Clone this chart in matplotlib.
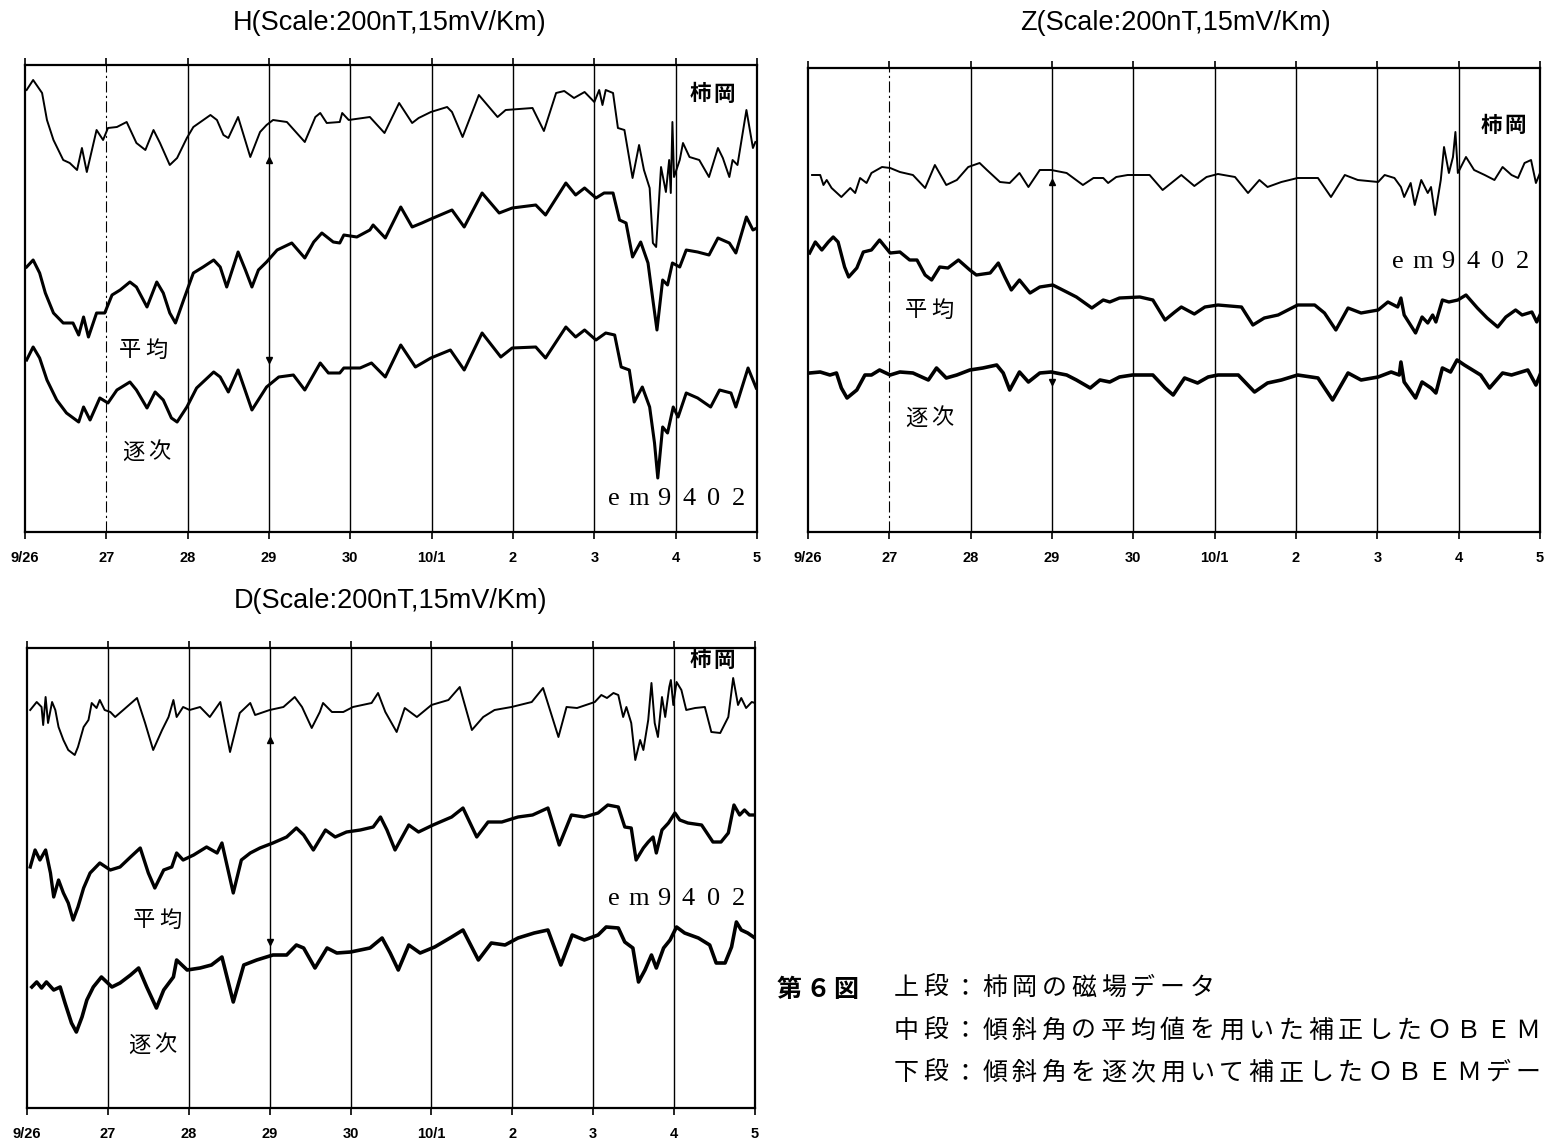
import matplotlib
matplotlib.use("Agg")
import matplotlib.pyplot as plt

plt.rcParams['font.family'] = ['Noto Sans CJK JP', 'DejaVu Sans']

# ---------------- data (time in days from 9/26 00h, value in plot units: larger = lower on page) -------------
day_ticks = [0, 1, 2, 3, 4, 5, 6, 7, 8, 9]
day_labels = ['9/26', '27', '28', '29', '30', '10/1', '2', '3', '4', '5']

# H component
H_kak_t = [0.02,0.10,0.21,0.27,0.35,0.47,0.55,0.64,0.70,0.76,0.88,0.96,1.02,1.13,1.25,1.37,1.48,1.58,1.66,1.78,1.87,1.99,2.07,2.28,2.36,2.44,2.50,2.62,2.77,2.89,2.97,3.05,3.22,3.44,3.57,3.63,3.71,3.87,3.90,3.98,4.24,4.42,4.60,4.76,4.84,4.99,5.19,5.25,5.38,5.58,5.81,5.91,6.24,6.38,6.53,6.63,6.75,6.88,7.00,7.06,7.10,7.14,7.23,7.29,7.37,7.47,7.55,7.61,7.68,7.72,7.76,7.82,7.88,7.92,7.94,7.96,7.98,8.05,8.09,8.17,8.29,8.41,8.52,8.58,8.66,8.70,8.76,8.87,8.95,8.98]
H_kak_v = [90,80,93,120,140,160,163,170,148,172,130,140,128,127,122,143,150,130,143,165,158,138,127,115,120,135,138,117,157,132,125,120,122,142,117,113,123,122,113,120,117,133,103,123,118,112,107,112,137,95,117,110,108,131,93,91,98,92,102,90,105,90,93,128,130,178,145,170,188,243,247,167,192,160,193,122,177,160,143,157,160,177,148,158,177,160,165,110,148,142]

H_avg_t = [0.02,0.10,0.18,0.25,0.35,0.47,0.59,0.66,0.72,0.78,0.88,0.98,1.07,1.17,1.29,1.37,1.50,1.62,1.70,1.78,1.85,1.95,2.07,2.19,2.32,2.40,2.48,2.62,2.71,2.79,2.87,2.97,3.10,3.28,3.44,3.55,3.65,3.79,3.87,3.92,4.08,4.24,4.28,4.43,4.62,4.76,4.88,4.99,5.25,5.40,5.62,5.83,5.99,6.28,6.40,6.65,6.77,6.88,7.02,7.12,7.23,7.31,7.39,7.47,7.57,7.66,7.72,7.77,7.84,7.90,7.96,8.05,8.13,8.27,8.41,8.52,8.66,8.74,8.87,8.95,9.00]
H_avg_v = [267,260,273,293,313,323,323,335,317,337,313,313,295,290,282,287,307,282,293,313,323,300,273,267,260,267,287,252,270,287,270,262,250,243,258,242,233,242,243,235,237,230,225,238,207,227,223,219,210,227,193,213,208,205,215,183,195,188,198,193,193,220,223,257,242,263,300,330,280,285,263,267,250,252,255,238,243,253,217,230,228]

H_seq_t = [0.02,0.10,0.18,0.27,0.39,0.51,0.66,0.72,0.80,0.92,1.02,1.13,1.29,1.37,1.50,1.60,1.70,1.80,1.87,1.99,2.11,2.32,2.40,2.50,2.62,2.79,2.97,3.12,3.30,3.44,3.63,3.73,3.87,3.92,4.12,4.26,4.43,4.62,4.80,4.99,5.23,5.40,5.62,5.85,5.99,6.28,6.40,6.65,6.77,6.88,7.02,7.14,7.25,7.33,7.43,7.49,7.59,7.68,7.74,7.78,7.84,7.90,7.97,8.03,8.13,8.27,8.43,8.54,8.68,8.74,8.89,8.99]
H_seq_v = [360,347,358,380,400,413,422,407,420,398,403,390,382,390,408,392,400,418,422,407,388,372,377,392,370,410,387,377,375,390,363,373,373,368,368,363,377,345,367,358,350,370,333,357,348,347,358,327,337,330,340,333,335,367,370,402,387,407,443,478,427,433,407,417,393,398,407,390,393,407,368,388]

# Z component
Z_kak_t = [0.05,0.15,0.19,0.23,0.29,0.41,0.52,0.58,0.64,0.72,0.78,0.91,1.01,1.13,1.29,1.44,1.56,1.70,1.83,1.97,2.11,2.20,2.36,2.48,2.60,2.71,2.85,2.99,3.18,3.38,3.51,3.63,3.69,3.79,3.93,4.20,4.36,4.59,4.75,4.90,5.04,5.25,5.41,5.55,5.65,5.82,6.02,6.27,6.43,6.60,6.76,7.01,7.09,7.21,7.29,7.33,7.41,7.46,7.54,7.62,7.66,7.71,7.78,7.82,7.88,7.93,7.96,7.99,8.09,8.19,8.32,8.44,8.54,8.65,8.73,8.81,8.89,8.95,9.00]
Z_kak_v = [175,175,185,180,188,197,188,193,178,183,173,167,168,172,175,188,165,185,180,167,163,170,182,183,173,187,170,170,173,185,178,178,183,177,175,175,190,175,186,177,174,177,193,180,187,182,178,178,197,175,180,182,175,178,187,197,183,205,180,193,187,215,180,147,173,157,132,173,157,170,175,180,167,175,178,163,160,183,173]

Z_avg_t = [0.02,0.09,0.17,0.25,0.31,0.37,0.45,0.50,0.60,0.68,0.78,0.88,1.01,1.13,1.25,1.34,1.44,1.52,1.62,1.72,1.85,1.99,2.07,2.24,2.34,2.42,2.50,2.60,2.73,2.85,3.01,3.18,3.30,3.49,3.63,3.71,3.83,4.08,4.24,4.39,4.51,4.59,4.75,4.88,5.04,5.33,5.47,5.61,5.78,6.02,6.23,6.35,6.49,6.64,6.80,7.01,7.13,7.25,7.29,7.33,7.47,7.55,7.62,7.68,7.72,7.80,7.88,7.99,8.09,8.23,8.35,8.48,8.58,8.70,8.78,8.90,8.96,9.00]
Z_avg_v = [253,242,250,242,237,242,267,277,268,252,250,240,253,252,260,260,275,280,267,268,260,270,275,273,263,277,290,280,293,287,285,292,297,308,300,302,298,297,300,320,312,307,314,307,305,307,325,318,315,305,305,313,330,308,313,310,302,307,298,315,333,317,323,315,322,300,302,300,295,308,318,327,317,310,315,312,322,315]

Z_seq_t = [0.02,0.15,0.27,0.35,0.41,0.48,0.60,0.70,0.78,0.88,1.01,1.13,1.29,1.48,1.58,1.70,1.83,1.99,2.15,2.32,2.40,2.48,2.60,2.71,2.85,2.99,3.18,3.30,3.47,3.59,3.71,3.83,3.99,4.24,4.39,4.49,4.63,4.79,4.92,5.04,5.29,5.49,5.65,5.82,6.02,6.27,6.45,6.64,6.80,7.01,7.17,7.27,7.29,7.33,7.47,7.55,7.66,7.72,7.80,7.90,7.98,8.07,8.27,8.38,8.54,8.65,8.73,8.85,8.95,9.00]
Z_seq_v = [373,372,375,373,388,398,390,375,375,370,375,372,373,380,368,378,375,370,368,365,373,390,372,382,373,372,375,380,388,380,382,377,375,375,388,395,378,383,377,375,375,392,383,380,375,378,400,373,380,377,372,375,362,382,398,382,388,393,368,372,360,365,375,388,373,375,373,370,385,375]

# D component
D_kak_t = [0.04,0.12,0.18,0.20,0.23,0.26,0.31,0.35,0.39,0.45,0.51,0.59,0.63,0.70,0.76,0.80,0.86,0.90,0.96,1.03,1.09,1.19,1.36,1.46,1.56,1.67,1.75,1.81,1.85,1.93,2.01,2.14,2.26,2.39,2.51,2.63,2.76,2.82,3.00,3.17,3.31,3.40,3.52,3.62,3.66,3.77,3.91,4.03,4.26,4.34,4.43,4.57,4.67,4.82,5.00,5.21,5.35,5.50,5.64,5.78,5.99,6.24,6.38,6.57,6.67,6.80,7.02,7.10,7.17,7.25,7.31,7.37,7.41,7.47,7.52,7.58,7.62,7.68,7.72,7.76,7.80,7.85,7.89,7.94,7.96,7.99,8.03,8.09,8.15,8.26,8.38,8.46,8.57,8.67,8.73,8.79,8.83,8.89,8.96,9.00]
D_kak_v = [710,702,707,725,697,723,702,710,727,740,750,755,747,727,720,703,708,700,710,712,717,710,698,723,750,730,717,700,717,707,710,707,717,702,752,713,703,715,710,707,697,707,728,712,703,712,712,707,703,693,712,732,708,717,705,700,687,730,717,710,707,702,688,737,707,708,702,695,698,693,695,717,707,723,760,740,750,720,683,723,737,697,717,687,680,705,682,690,710,708,707,732,733,717,678,705,698,708,702,703]

D_avg_t = [0.04,0.10,0.16,0.23,0.29,0.33,0.39,0.45,0.51,0.57,0.63,0.70,0.78,0.90,1.03,1.15,1.28,1.40,1.50,1.58,1.69,1.79,1.85,1.93,2.06,2.22,2.35,2.41,2.55,2.65,2.76,2.88,3.04,3.21,3.33,3.42,3.54,3.69,3.81,3.95,4.12,4.28,4.37,4.45,4.55,4.72,4.84,5.02,5.25,5.39,5.56,5.70,5.87,6.07,6.25,6.44,6.58,6.73,6.89,7.06,7.18,7.31,7.39,7.47,7.53,7.62,7.68,7.74,7.78,7.85,7.93,8.01,8.07,8.17,8.34,8.48,8.58,8.67,8.74,8.81,8.87,8.93,9.00]
D_avg_v = [867,850,860,850,873,897,880,893,903,920,907,888,873,863,870,867,857,848,873,888,870,867,853,860,855,847,853,843,893,860,853,848,843,837,828,835,850,830,837,832,830,827,817,830,850,825,832,825,817,808,837,822,822,817,815,808,845,815,817,813,805,807,827,828,860,848,842,837,853,830,823,813,820,823,825,842,842,833,805,815,810,815,815]

D_seq_t = [0.06,0.12,0.18,0.24,0.33,0.41,0.47,0.55,0.61,0.68,0.74,0.82,0.92,1.05,1.15,1.28,1.38,1.48,1.60,1.69,1.81,1.85,1.98,2.14,2.28,2.41,2.55,2.68,2.84,3.04,3.21,3.33,3.42,3.56,3.71,3.83,4.00,4.24,4.39,4.49,4.59,4.72,4.86,5.04,5.25,5.39,5.58,5.74,5.91,6.07,6.27,6.44,6.60,6.74,6.89,7.06,7.16,7.31,7.39,7.49,7.56,7.64,7.72,7.78,7.87,7.95,8.03,8.13,8.30,8.44,8.52,8.63,8.71,8.77,8.83,8.91,9.00]
D_seq_v = [987,982,988,982,990,987,1003,1023,1032,1017,1000,987,977,987,983,975,968,987,1008,990,977,960,970,968,965,957,1002,965,960,955,955,945,948,968,948,953,952,948,938,953,970,945,953,947,937,930,960,943,945,938,933,930,965,935,940,935,927,928,942,948,982,970,955,968,948,940,927,933,938,945,963,963,947,922,930,933,938]

station_label = '柿岡'
avg_label = '平均'
seq_label = '逐次'
obem_label = 'em9402'
fig_no = '第６図'
cap_lines = ['上段：柿岡の磁場データ',
             '中段：傾斜角の平均値を用いた補正したＯＢＥＭ',
             '下段：傾斜角を逐次用いて補正したＯＢＥＭデー']

# ---------------- figure ----------------
fig = plt.figure(figsize=(15.45, 11.45), dpi=100)
W, Hh = 1545.0, 1145.0

def make_ax(left, right, top, bottom):
    ax = fig.add_axes([left / W, 1 - bottom / Hh, (right - left) / W, (bottom - top) / Hh])
    ax.set_xlim(0, 9)
    ax.set_ylim(bottom, top)
    ax.set_yticks([])
    ax.set_xticks(day_ticks)
    ax.set_xticklabels(day_labels, fontsize=10.5, fontweight='bold', family=['Liberation Sans', 'DejaVu Sans'])
    ax.tick_params(axis='x', direction='out', length=5, width=1.2, top=True, pad=9)
    for s in ax.spines.values():
        s.set_linewidth(1.6)
    return ax

def grid(ax, dashed27=False):
    for d in range(1, 9):
        if d == 1 and dashed27:
            ax.axvline(d, color='black', lw=0.8, ls=(0, (10, 3, 2, 3)))
        else:
            ax.axvline(d, color='black', lw=1.0)

axH = make_ax(25, 757, 65, 532)
axZ = make_ax(808, 1540, 68, 532)
axD = make_ax(27, 755, 648, 1108)
grid(axH, True)
grid(axZ, True)
grid(axD, False)

for ax, series in [
    (axH, [(H_kak_t, H_kak_v, 1.4), (H_avg_t, H_avg_v, 2.2), (H_seq_t, H_seq_v, 2.2)]),
    (axZ, [(Z_kak_t, Z_kak_v, 1.4), (Z_avg_t, Z_avg_v, 2.4), (Z_seq_t, Z_seq_v, 2.6)]),
    (axD, [(D_kak_t, D_kak_v, 1.4), (D_avg_t, D_avg_v, 2.4), (D_seq_t, D_seq_v, 2.6)]),
]:
    for t, v, lw in series:
        ax.plot(t, v, color='black', lw=lw, solid_joinstyle='round')

# arrow marks on the 29 line
for ax, yu, yd in [(axH, 160, 360), (axZ, 182, 382), (axD, 740, 942)]:
    ax.plot([3], [yu], marker='^', color='black', ms=5)
    ax.plot([3], [yd], marker='v', color='black', ms=5)

jp = ['Noto Sans CJK JP', 'DejaVu Sans']
serif = ['Liberation Serif', 'DejaVu Serif']

def spaced(ax, x_center_px, y, text, pitch_px, day0_px, px_per_day, **kw):
    n = len(text)
    start = x_center_px - pitch_px * (n - 1) / 2.0
    for i, ch in enumerate(text):
        xp = start + i * pitch_px
        ax.text((xp - day0_px) / px_per_day, y, ch, ha='center', va='center', **kw)

jb = dict(fontsize=15.5, fontweight='bold', family=jp)
jr = dict(fontsize=16, family=jp)
# labels H  (day0 at 25 px, 81.3 px/day)
spaced(axH, 712, 94, station_label, 24, 25, 81.3, **jb)
spaced(axH, 143, 350, avg_label, 26, 25, 81.3, **jr)
spaced(axH, 146, 452, seq_label, 26, 25, 81.3, **jr)
spaced(axH, 676, 499, obem_label, 25, 25, 81.3, fontsize=19, family=serif)
# labels Z  (day0 at 808 px)
spaced(axZ, 1503, 125, station_label, 24, 808, 81.3, **jb)
spaced(axZ, 1460, 262, obem_label, 25, 808, 81.3, fontsize=19, family=serif)
spaced(axZ, 929, 310, avg_label, 26, 808, 81.3, **jr)
spaced(axZ, 929, 418, seq_label, 26, 808, 81.3, **jr)
# labels D  (day0 at 27 px, 80.9 px/day)
spaced(axD, 712, 660, station_label, 24, 27, 80.9, **jb)
spaced(axD, 676, 899, obem_label, 25, 27, 80.9, fontsize=19, family=serif)
spaced(axD, 157, 920, avg_label, 26, 27, 80.9, **jr)
spaced(axD, 152, 1045, seq_label, 26, 27, 80.9, **jr)

# titles
tf = ['Liberation Sans', 'DejaVu Sans']
fig.text(390 / W, 1 - 23 / Hh, 'H(Scale:200nT,15mV/Km)', fontsize=19.5, ha='center', va='center', family=tf)
fig.text(1175 / W, 1 - 23 / Hh, 'Z(Scale:200nT,15mV/Km)', fontsize=19.5, ha='center', va='center', family=tf)
fig.text(390 / W, 1 - 601 / Hh, 'D(Scale:200nT,15mV/Km)', fontsize=19.5, ha='center', va='center', family=tf)

# caption (fixed character pitch as in the typeset original)
for i, ch in enumerate(fig_no):
    fig.text((789 + i * 28.5) / W, 1 - 990 / Hh, ch, fontsize=18, ha='center', va='center', family=jp, fontweight='bold')
for j, line in enumerate(cap_lines):
    for i, ch in enumerate(line):
        fig.text((906 + i * 29.6) / W, 1 - (988 + 42.5 * j) / Hh, ch, fontsize=18,
                 ha='center', va='center', family=jp)

fig.savefig('out.png', dpi=100)
